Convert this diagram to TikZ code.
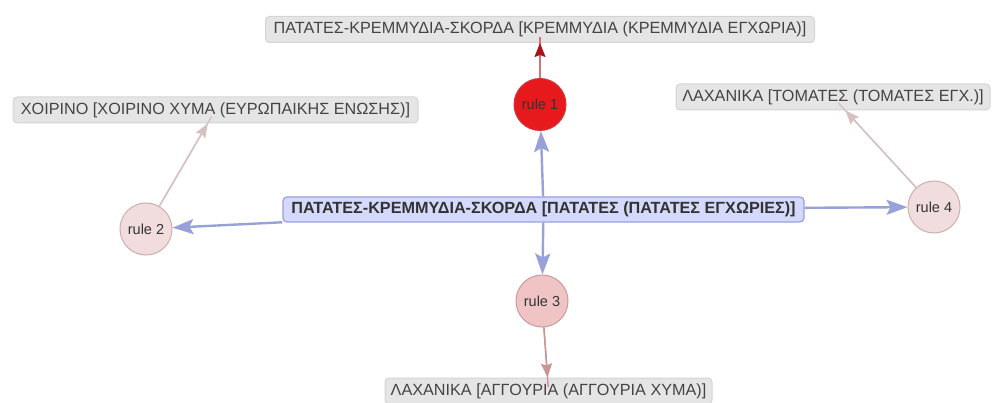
\documentclass[tikz,border=0pt]{standalone}
\usepackage{fontspec}
\setmainfont{Liberation Sans}
\usetikzlibrary{arrows.meta,calc}
\definecolor{blueedge}{HTML}{98A2D8}
\definecolor{centerfill}{HTML}{D5DAFC}
\definecolor{centerdraw}{HTML}{96A0E0}
\definecolor{hotfill}{HTML}{E8191C}
\definecolor{hotdraw}{HTML}{CC3A40}
\definecolor{hotedge}{HTML}{D8707A}
\definecolor{hottip}{HTML}{B0101A}
\definecolor{palefill}{HTML}{F1DDDD}
\definecolor{paledraw}{HTML}{CDAFAF}
\definecolor{paleedge}{HTML}{D6C0C0}
\definecolor{midfill}{HTML}{F0C4C4}
\definecolor{middraw}{HTML}{C99C9C}
\definecolor{midedge}{HTML}{C89494}
\definecolor{lblfill}{HTML}{E5E5E5}
\definecolor{lbldraw}{HTML}{D4D4D4}
\definecolor{txt}{HTML}{444444}
\tikzset{
  x=1pt, y=-1pt,
  item/.style={draw=lbldraw, fill=lblfill, rounded corners=4pt, line width=1pt,
    text=txt, font=\fontsize{16.2}{18}\selectfont, inner xsep=5pt,
    minimum height=26pt},
  hub/.style={draw=centerdraw, fill=centerfill, rounded corners=4pt, line width=1.2pt,
    text=black!80, font=\bfseries\fontsize{16.2}{18}\selectfont, inner xsep=5pt,
    minimum height=25pt},
  rulenode/.style={circle, minimum size=52pt, inner sep=0pt, line width=1pt,
    text=black!80, font=\fontsize{14.5}{16}\selectfont},
  hubedge/.style={draw=blueedge, line width=2.4pt,
    -{Stealth[length=21pt,width=15pt,inset=4pt]}},
  paleline/.style={draw=paleedge, line width=1.4pt},
  paleedge/.style={paleline, -{Stealth[length=14pt,width=11pt,inset=2pt]}},
  midline/.style={draw=midedge, line width=1.4pt},
  midedgestyle/.style={midline, -{Stealth[length=14pt,width=11pt,inset=2pt]}},
  hotline/.style={draw=hotedge, line width=1.4pt},
  hotedgestyle/.style={hotline, -{Stealth[length=14pt,width=11pt,inset=2pt,color=hottip]}},
}
\begin{document}
\begin{tikzpicture}
\useasboundingbox (0,0) rectangle (992,403);
% sources and targets
\node[item, minimum width=549pt] (top) at (540,29.5)
  {ΠΑΤΑΤΕΣ-ΚΡΕΜΜΥΔΙΑ-ΣΚΟΡΔΑ [ΚΡΕΜΜΥΔΙΑ (ΚΡΕΜΜΥΔΙΑ ΕΓΧΩΡΙΑ)]};
\node[item, minimum width=405pt] (left) at (215.5,110)
  {ΧΟΙΡΙΝΟ [ΧΟΙΡΙΝΟ ΧΥΜΑ (ΕΥΡΩΠΑΙΚΗΣ ΕΝΩΣΗΣ)]};
\node[item, minimum width=314pt] (right) at (833,97)
  {ΛΑΧΑΝΙΚΑ [ΤΟΜΑΤΕΣ (ΤΟΜΑΤΕΣ ΕΓΧ.)]};
\node[item, minimum width=327pt] (bottom) at (548.5,391)
  {ΛΑΧΑΝΙΚΑ [ΑΓΓΟΥΡΙΑ (ΑΓΓΟΥΡΙΑ ΧΥΜΑ)]};
\node[hub, minimum width=521pt] (hub) at (543.5,209.5)
  {ΠΑΤΑΤΕΣ-ΚΡΕΜΜΥΔΙΑ-ΣΚΟΡΔΑ [ΠΑΤΑΤΕΣ (ΠΑΤΑΤΕΣ ΕΓΧΩΡΙΕΣ)]};
% rule nodes
\node[rulenode, draw=hotdraw, fill=hotfill] (r1) at (540,104.5) {rule 1};
\node[rulenode, draw=paledraw, fill=palefill] (r2) at (146,229) {rule 2};
\node[rulenode, draw=middraw, fill=midfill] (r3) at (542,301) {rule 3};
\node[rulenode, draw=paledraw, fill=palefill] (r4) at (934,207) {rule 4};
% hub to rules
\draw[hubedge] (hub) -- (r1);
\draw[hubedge] (hub) -- (r2);
\draw[hubedge] (hub) -- (r3);
\draw[hubedge] (hub) -- (r4);
% rules to their items (line reaches a little into the item box)
\draw[hotline] (r1) -- ($(top.center)!8pt!(r1.center)$);
\draw[hotedgestyle] (r1) -- (top);
\draw[paleline] (r2) -- ($(left.center)!8pt!(r2.center)$);
\draw[paleedge] (r2) -- (left);
\draw[midline] (r3) -- ($(bottom.center)!4pt!(r3.center)$);
\draw[midedgestyle] (r3) -- (bottom);
\draw[paleline] (r4) -- ($(right.center)!8pt!(r4.center)$);
\draw[paleedge] (r4) -- (right);
\end{tikzpicture}
\end{document}
